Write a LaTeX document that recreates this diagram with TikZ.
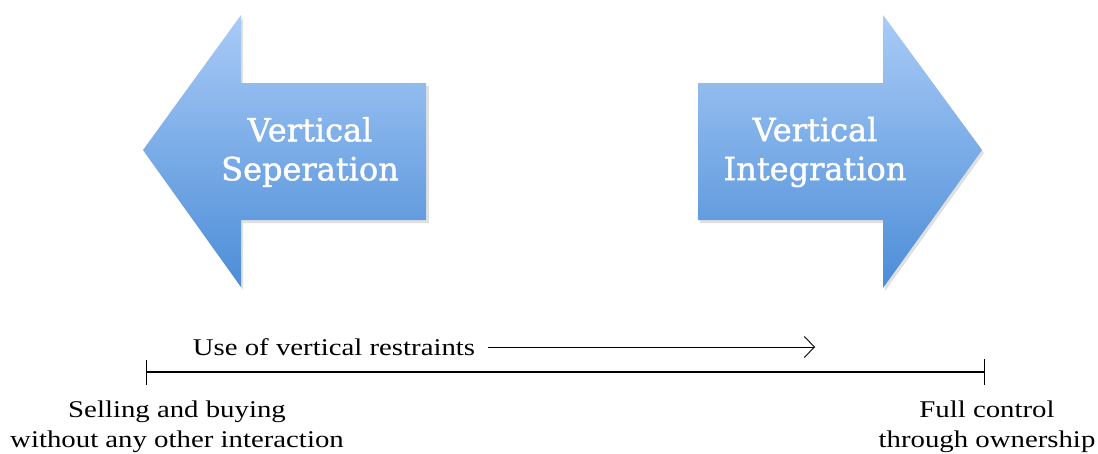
\documentclass[tikz,border=0pt]{standalone}
\usepackage{fontspec}
\setmainfont{Liberation Serif}
\newfontfamily\arrowfont[FakeBold=1.3]{DejaVu Serif}
\newfontfamily\timesw[FakeStretch=1.2]{Liberation Serif}
\usetikzlibrary{arrows.meta}
\definecolor{blueTop}{HTML}{A9CBF7}
\definecolor{blueBot}{HTML}{4C8DD7}
\tikzset{
  bigarrow/.style={top color=blueTop, bottom color=blueBot, draw=none},
  arrowshadow/.style={fill=black, opacity=0.12, draw=none},
  arrowlabel/.style={text=white, align=center, font=\arrowfont\fontsize{32}{39}\selectfont},
  scalelabel/.style={text=black, align=center, font=\timesw\fontsize{24}{29.5}\selectfont, inner sep=0pt},
}
\begin{document}
\begin{tikzpicture}[x=1pt, y=-1pt]
\useasboundingbox (0,0) rectangle (1098,453);
% shadows
\fill[arrowshadow] (145,153) -- (243,18) -- (243,86) -- (429,86) -- (429,223) -- (243,223) -- (243,290) -- cycle;
\fill[arrowshadow] (700,86) -- (885,86) -- (885,18) -- (984,153) -- (885,291) -- (885,223) -- (700,223) -- cycle;
% arrows
\shade[bigarrow] (143,150) -- (241,15) -- (241,83) -- (426,83) -- (426,220) -- (241,220) -- (241,287) -- cycle;
\shade[bigarrow] (698,83) -- (883,83) -- (883,15) -- (982,150) -- (883,288) -- (883,220) -- (698,220) -- cycle;
\node[arrowlabel] (sep) at (310,152) {Vertical\\Seperation};
\node[arrowlabel] (int) at (815,152) {Vertical\\Integration};
% scale
\node[scalelabel] (use) at (334,347) {Use of vertical restraints};
\coordinate (ua) at (488,347);
\coordinate (ub) at (815,347);
\draw[line width=0.9pt, -{Straight Barb[length=10pt,width=21pt,line width=0.9pt]}] (ua) -- (ub);
\coordinate (L) at (146,372);
\coordinate (R) at (985,372);
\draw[line width=1.4pt, {Bar[width=25pt,line width=1.4pt]}-{Bar[width=26pt,line width=1.4pt]}] (L) -- (R);
\node[scalelabel] (left) at (177,427) {Selling and buying\\without any other interaction};
\node[scalelabel] (right) at (987,427) {Full control\\through ownership};
\end{tikzpicture}
\end{document}
